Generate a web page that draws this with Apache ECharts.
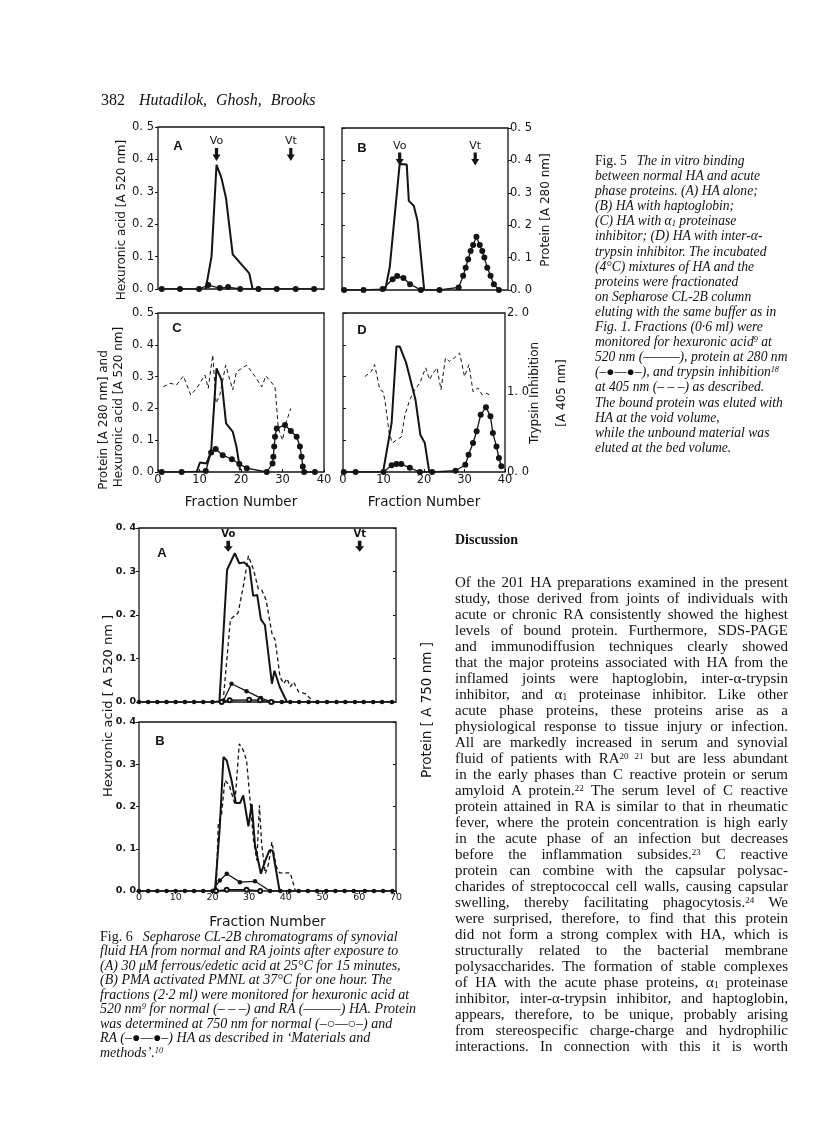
<!DOCTYPE html>
<html lang="en">
<head>
<meta charset="utf-8">
<title>Hutadilok, Ghosh, Brooks - Fig. 5 and Fig. 6</title>
<script src="https://cdn.jsdelivr.net/npm/echarts/dist/echarts.min.js"></script>
<style>
  html, body { margin: 0; padding: 0; background: #fff; }
  #page { position: relative; width: 816px; height: 1144px; overflow: hidden; background: #fff; }
  #chart { position: absolute; left: 0; top: 0; width: 816px; height: 1144px; }
  .txt { position: absolute; color: #111; font-family: "Liberation Serif", "DejaVu Serif", serif; white-space: nowrap; }
  .head { left: 101px; top: 91px; font-size: 16px; line-height: 18px; }
  .head i { margin-left: 14px; word-spacing: 5px; }
  .cap { font-style: italic; }
  .cap .rm { font-style: normal; margin-right: 10px; }
  .cap5 { left: 595px; top: 153px; font-size: 13.6px; line-height: 15.1px; }
  .cap6 { left: 100px; top: 929.5px; font-size: 14px; line-height: 14.5px; }
  .disc { left: 455px; top: 531.5px; font-size: 14px; line-height: 16px; font-weight: bold; }
  .body { left: 455px; top: 574px; width: 333px; font-size: 15px; line-height: 16px; }
  .body div { text-align: justify; text-align-last: justify; }
  sup { font-size: 0.6em; line-height: 0; vertical-align: 0.5em; }
  sub { font-size: 0.62em; line-height: 0; vertical-align: -0.15em; }
</style>
</head>
<body>
<div id="page">
  <div id="chart"></div>

  <div class="txt head">382<i>Hutadilok, Ghosh, Brooks</i></div>

  <div class="txt cap cap5">
    <div><span class="rm">Fig. 5</span>The in vitro binding</div>
    <div>between normal HA and acute</div>
    <div>phase proteins. (A) HA alone;</div>
    <div>(B) HA with haptoglobin;</div>
    <div>(C) HA with α<sub>1</sub> proteinase</div>
    <div>inhibitor; (D) HA with inter-α-</div>
    <div>trypsin inhibitor. The incubated</div>
    <div>(4°C) mixtures of HA and the</div>
    <div>proteins were fractionated</div>
    <div>on Sepharose CL-2B column</div>
    <div>eluting with the same buffer as in</div>
    <div>Fig. 1. Fractions (0·6 ml) were</div>
    <div>monitored for hexuronic acid<sup>9</sup> at</div>
    <div>520 nm (———), protein at 280 nm</div>
    <div>(–●—●–), and trypsin inhibition<sup>18</sup></div>
    <div>at 405 nm (– – –) as described.</div>
    <div>The bound protein was eluted with</div>
    <div>HA at the void volume,</div>
    <div>while the unbound material was</div>
    <div>eluted at the bed volume.</div>
  </div>

  <div class="txt cap cap6">
    <div><span class="rm">Fig. 6</span>Sepharose CL-2B chromatograms of synovial</div>
    <div>fluid HA from normal and RA joints after exposure to</div>
    <div>(A) 30 μM ferrous/edetic acid at 25°C for 15 minutes,</div>
    <div>(B) PMA activated PMNL at 37°C for one hour. The</div>
    <div>fractions (2·2 ml) were monitored for hexuronic acid at</div>
    <div>520 nm<sup>9</sup> for normal (– – –) and RA (———) HA. Protein</div>
    <div>was determined at 750 nm for normal (–○—○–) and</div>
    <div>RA (–●—●–) HA as described in ‘Materials and</div>
    <div>methods’.<sup>10</sup></div>
  </div>

  <div class="txt disc">Discussion</div>

  <div class="txt body">
    <div>Of the 201 HA preparations examined in the present</div>
    <div>study, those derived from joints of individuals with</div>
    <div>acute or chronic RA consistently showed the highest</div>
    <div>levels of bound protein. Furthermore, SDS-PAGE</div>
    <div>and immunodiffusion techniques clearly showed</div>
    <div>that the major proteins associated with HA from the</div>
    <div>inflamed joints were haptoglobin, inter-α-trypsin</div>
    <div>inhibitor, and α<sub>1</sub> proteinase inhibitor. Like other</div>
    <div>acute phase proteins, these proteins arise as a</div>
    <div>physiological response to tissue injury or infection.</div>
    <div>All are markedly increased in serum and synovial</div>
    <div>fluid of patients with RA<sup>20 21</sup> but are less abundant</div>
    <div>in the early phases than C reactive protein or serum</div>
    <div>amyloid A protein.<sup>22</sup> The serum level of C reactive</div>
    <div>protein attained in RA is similar to that in rheumatic</div>
    <div>fever, where the protein concentration is high early</div>
    <div>in the acute phase of an infection but decreases</div>
    <div>before the inflammation subsides.<sup>23</sup> C reactive</div>
    <div>protein can combine with the capsular polysac-</div>
    <div>charides of streptococcal cell walls, causing capsular</div>
    <div>swelling, thereby facilitating phagocytosis.<sup>24</sup> We</div>
    <div>were surprised, therefore, to find that this protein</div>
    <div>did not form a strong complex with HA, which is</div>
    <div>structurally related to the bacterial membrane</div>
    <div>polysaccharides. The formation of stable complexes</div>
    <div>of HA with the acute phase proteins, α<sub>1</sub> proteinase</div>
    <div>inhibitor, inter-α-trypsin inhibitor, and haptoglobin,</div>
    <div>appears, therefore, to be unique, probably arising</div>
    <div>from stereospecific charge-charge and hydrophilic</div>
    <div>interactions. In connection with this it is worth</div>
  </div>
</div>

<script>
// Fig. 5 - fractions 0-40, hexuronic acid / protein (A 520 / A 280) on 0-0.5,
// trypsin inhibition (A 405) on 0-2.0 in panel D
const f5FractionTicks = [0, 10, 20, 30, 40]
const f5AbsTicks = [0, 0.1, 0.2, 0.3, 0.4, 0.5]
const f5TrypsinTicks = [0, 1.0, 2.0]

const f5aHexuronic = [[11.5, 0], [12.9, 0.10], [14.1, 0.383], [15.3, 0.342], [16.4, 0.28], [18, 0.107], [22, 0.048], [22.8, 0]]
const f5aProtein = [[0.9, 0], [5.3, 0], [9.9, 0], [12.1, 0.012], [14.9, 0.003], [16.9, 0.006], [19.8, 0], [24.2, 0], [28.6, 0], [33.2, 0], [37.6, 0]]

const f5bHexuronic = [[10.4, 0], [11.5, 0.07], [13.9, 0.389], [15.6, 0.387], [16.1, 0.275], [17.3, 0.26], [18.2, 0.213], [19.8, 0]]
const f5bProtein = [[0.5, 0], [5.2, 0], [9.8, 0.003], [12.2, 0.033], [13.3, 0.043], [14.8, 0.037], [16.4, 0.018], [19, 0], [23.5, 0],
  [28.1, 0.008], [29.2, 0.044], [29.8, 0.069], [30.4, 0.095], [31, 0.12], [31.6, 0.139], [32.4, 0.164], [33.2, 0.139],
  [33.8, 0.12], [34.3, 0.1], [35, 0.069], [35.8, 0.044], [36.6, 0.018], [37.8, 0]]

const f5cHexuronic = [[9.3, 0], [10.1, 0.03], [11.7, 0.027], [12.8, 0.065], [14.1, 0.326], [15.3, 0.29], [16.4, 0.153], [18, 0.127], [18.9, 0.08], [19.8, 0.005]]
const f5cProtein = [[0.9, 0], [5.7, 0], [11.5, 0.003], [12.8, 0.061], [13.9, 0.072], [15.6, 0.053], [17.8, 0.04], [19.6, 0.025], [21.4, 0.012], [26.2, 0],
  [27.6, 0.027], [27.8, 0.048], [28, 0.08], [28.2, 0.111], [28.6, 0.137], [30.6, 0.148], [32, 0.129], [33.4, 0.111],
  [34.2, 0.08], [34.6, 0.048], [34.9, 0.017], [35.2, 0], [37.8, 0]]
const f5cTrypsin = [[1.3, 0.268], [2.9, 0.279], [4.5, 0.274], [6.1, 0.302], [7.9, 0.242], [9.3, 0.263], [11.3, 0.305], [12.1, 0.263], [13.2, 0.368],
  [14, 0.216], [14.9, 0.242], [16.3, 0.336], [18, 0.258], [18.9, 0.315], [21.4, 0.336], [23.4, 0.3], [25, 0.268], [26, 0.302],
  [28.2, 0.268], [29, 0.137], [30, 0.1], [30.8, 0.153], [32, 0.2]]

const f5dHexuronic = [[9.9, 0], [12, 0.154], [13.2, 0.395], [14, 0.395], [15.6, 0.343], [17.9, 0.227], [19.1, 0.117], [20.2, 0.091], [21.3, 0]]
const f5dProtein = [[0.2, 0], [3.1, 0], [10, 0], [12, 0.021], [13.2, 0.025], [14.4, 0.025], [16.5, 0.013], [19, 0], [22, 0], [27.8, 0.004],
  [30.2, 0.023], [31, 0.054], [32.1, 0.091], [33, 0.128], [34, 0.18], [35.3, 0.204], [36.4, 0.175], [37, 0.123], [37.9, 0.08],
  [38.5, 0.044], [39.1, 0.018]]
const f5dTrypsin = [[5.4, 1.2], [7, 1.265], [7.8, 1.35], [9.1, 1.035], [9.9, 1.01], [10.4, 0.888], [11.4, 0.49], [12.2, 0.365], [13.6, 0.415],
  [14.4, 0.44], [15.3, 0.72], [16.5, 0.91], [17.7, 1.035], [19, 1.12], [20.4, 1.31], [21.4, 1.16], [22, 1.225], [23.2, 1.31],
  [24.2, 1.035], [25.3, 1.434], [26.3, 1.39], [27.5, 1.434], [28.8, 1.497], [30, 1.2], [31.1, 1.35], [32.1, 1.01], [33.3, 1.057],
  [34.4, 0.97], [35.5, 0.99], [36.7, 0.95]]

// void (Vo) and bed (Vt) volume markers, fraction number
const f5Markers = [['Vo', 14.1], ['Vt', 32]]

// Fig. 6 - fractions 0-70, hexuronic acid (A 520) and protein (A 750) on 0-0.4
const f6FractionTicks = [0, 10, 20, 30, 40, 50, 60, 70]
const f6AbsTicks = [0, 0.1, 0.2, 0.3, 0.4]

const f6aRaHexuronic = [[21.9, 0], [24, 0.304], [26.1, 0.342], [27.3, 0.319], [28.6, 0.321], [30.1, 0.31], [31.1, 0.244], [32.2, 0.246],
  [33.2, 0.19], [34.3, 0.177], [36.2, 0.042], [36.9, 0.072], [38.3, 0.035], [40.3, 0]]
const f6aNormalHexuronic = [[22.9, 0], [24.9, 0.19], [27, 0.205], [28.5, 0.27], [29.8, 0.336], [31.2, 0.304], [32.5, 0.26], [33.4, 0.258],
  [34.6, 0.235], [36.2, 0.158], [37.1, 0.142], [38.4, 0.058], [39.4, 0.042], [40.3, 0.054], [41.2, 0.035], [42.1, 0.046],
  [43.5, 0.023], [45.3, 0.019], [47.6, 0]]
const f6aRaProtein = [[0, 0], [2.5, 0], [5, 0], [7.5, 0], [10, 0], [12.5, 0], [15, 0], [17.5, 0], [20, 0], [23, 0.003], [25.2, 0.042],
  [29.3, 0.025], [33.2, 0.009], [36.4, 0], [38.9, 0], [41.2, 0], [43.6, 0], [46.2, 0], [48.6, 0], [51.2, 0], [53.8, 0],
  [56.2, 0], [58.8, 0], [61.2, 0], [63.8, 0], [66.2, 0], [68.9, 0]]
const f6aNormalProtein = [[22.5, 0], [24.7, 0.004], [30, 0.005], [33, 0.004], [36, 0]]

const f6bRaHexuronic = [[20.7, 0], [22, 0.151], [23, 0.317], [23.9, 0.309], [25.2, 0.262], [26.4, 0.208], [27.5, 0.208], [28.4, 0.226],
  [29.8, 0.153], [30.7, 0.206], [31.6, 0.108], [33.2, 0.041], [34.4, 0.072], [35.5, 0.096], [36.4, 0.096], [38.3, 0]]
const f6bNormalHexuronic = [[21, 0], [21.6, 0.159], [22.5, 0.183], [23.4, 0.262], [24.6, 0.25], [26.1, 0.206], [27.3, 0.348], [28.4, 0.333],
  [29.3, 0.309], [30.1, 0.23], [31.2, 0.12], [32.1, 0.072], [32.8, 0.203], [33.4, 0.112], [34.4, 0.041], [35.3, 0.065],
  [36.2, 0.116], [37.4, 0.057], [38.3, 0.043], [41.2, 0.043], [42.6, 0]]
const f6bRaProtein = [[0, 0], [2.5, 0], [5, 0], [7.5, 0], [10, 0], [12.5, 0], [15, 0], [17.5, 0], [20, 0], [22, 0.025], [23.9, 0.041],
  [27.5, 0.021], [31.6, 0.023], [35.7, 0], [38.5, 0], [41, 0], [43.5, 0], [46, 0], [48.5, 0], [51, 0], [53.5, 0], [56, 0],
  [58.5, 0], [61.5, 0], [64, 0], [66.5, 0], [69, 0]]
const f6bNormalProtein = [[21, 0], [23.9, 0.003], [29.3, 0.003], [33, 0]]

const f6Markers = [['Vo', 24.3], ['Vt', 60.1]]

const INK = '#141414'
const FIG_FONT = '"DejaVu Sans", sans-serif'
const ARROW = 'path://M3,0 L7,0 L7,8 L10,8 L5,16 L0,8 L3,8 Z'

const fmtAbs = v => v.toFixed(1).replace('.', '. ')

function xAxis(grid, ticks, labels, fs, name) {
  return {
    type: 'value', gridIndex: grid,
    min: ticks[0], max: ticks[ticks.length - 1], interval: ticks[1] - ticks[0],
    axisLine: { show: false }, splitLine: { show: false },
    axisTick: { show: labels, inside: true, length: 3, lineStyle: { color: INK } },
    axisLabel: { show: labels, color: INK, fontSize: fs, fontFamily: FIG_FONT, margin: 2 },
    name: name || '', nameLocation: 'middle', nameGap: 23,
    nameTextStyle: { color: INK, fontSize: fs + 2, fontFamily: FIG_FONT }
  }
}

function yAxis(grid, ticks, pos, labels, fs, inside) {
  return {
    type: 'value', gridIndex: grid, position: pos,
    min: ticks[0], max: ticks[ticks.length - 1], interval: ticks[1] - ticks[0],
    axisLine: { show: false }, splitLine: { show: false },
    axisTick: { show: true, inside: !!inside, length: 3, lineStyle: { color: INK } },
    axisLabel: { show: labels, color: INK, fontSize: fs, fontFamily: FIG_FONT, margin: 4, formatter: fmtAbs }
  }
}

function solid(data, xi, yi, width, dashed) {
  return {
    type: 'line', xAxisIndex: xi, yAxisIndex: yi, data: data, symbol: 'none', z: 3,
    lineStyle: { color: INK, width: width, type: dashed ? [4, 3] : 'solid' }
  }
}

function dots(data, xi, yi, size, hollow) {
  return {
    type: 'line', xAxisIndex: xi, yAxisIndex: yi, data: data, z: 4,
    symbol: hollow ? 'emptyCircle' : 'circle', symbolSize: size, showAllSymbol: true,
    itemStyle: { color: INK, borderColor: INK, borderWidth: hollow ? 1 : 0 },
    lineStyle: { color: INK, width: 1.3 }
  }
}

function arrows(items, yVal, size, fs) {
  return {
    symbol: ARROW, symbolSize: size, silent: true,
    itemStyle: { color: INK },
    label: { show: true, position: 'top', distance: 1, formatter: '{b}', color: INK, fontSize: fs, fontFamily: FIG_FONT },
    data: items.map(m => ({ name: m[0], coord: [m[1], yVal] }))
  }
}

function gridBox(left, top, width, height) {
  return { left, top, width, height, show: true, borderColor: INK, borderWidth: 1.3, backgroundColor: 'transparent' }
}

function letter(t, x, y) {
  return { type: 'text', x, y, silent: true,
    style: { text: t, fill: INK, font: 'bold 13px "Liberation Sans", sans-serif', align: 'center', verticalAlign: 'middle' } }
}

function vtext(t, x, y, fs) {
  return { type: 'text', x, y, rotation: Math.PI / 2, silent: true,
    style: { text: t, fill: INK, font: fs + 'px ' + FIG_FONT, align: 'center', verticalAlign: 'middle' } }
}

const grids = [
  gridBox(158, 127, 166, 162),   // 5A
  gridBox(342, 128, 166, 162),   // 5B
  gridBox(158, 313, 166, 159),   // 5C
  gridBox(343, 313, 162, 159),   // 5D
  gridBox(139, 528, 257, 174),   // 6A
  gridBox(139, 722, 257, 169)    // 6B
]

const xAxes = [
  xAxis(0, f5FractionTicks, false, 11),
  xAxis(1, f5FractionTicks, false, 11),
  xAxis(2, f5FractionTicks, true, 11.5, 'Fraction Number'),
  xAxis(3, f5FractionTicks, true, 11.5, 'Fraction Number'),
  xAxis(4, f6FractionTicks, false, 9.5),
  xAxis(5, f6FractionTicks, true, 9.5)
]
xAxes[5].axisTick.inside = false
xAxes[5].axisLabel.margin = 2
xAxes[5].name = 'Fraction Number'
xAxes[5].nameGap = 24
xAxes[5].nameTextStyle.fontSize = 14

const yAxes = [
  yAxis(0, f5AbsTicks, 'left', true, 11.5),          // 0: 5A left
  yAxis(0, f5AbsTicks, 'right', false, 11, true),    // 1: 5A right
  yAxis(1, f5AbsTicks, 'left', false, 11, true),     // 2: 5B left
  yAxis(1, f5AbsTicks, 'right', true, 11.5),         // 3: 5B right
  yAxis(2, f5AbsTicks, 'left', true, 11.5),          // 4: 5C left
  yAxis(3, f5AbsTicks, 'left', false, 11, true),     // 5: 5D left
  yAxis(3, f5TrypsinTicks, 'right', true, 11.5),     // 6: 5D right (trypsin)
  yAxis(4, f6AbsTicks, 'left', true, 9.5),           // 7: 6A left
  yAxis(4, f6AbsTicks, 'right', false, 9, true),     // 8: 6A right
  yAxis(5, f6AbsTicks, 'left', true, 9.5),           // 9: 6B left
  yAxis(5, f6AbsTicks, 'right', false, 9, true)      // 10: 6B right
]
yAxes[3].axisLabel.margin = 2
yAxes[6].axisLabel.margin = 2
yAxes[6].axisTick.show = false
yAxes[7].axisLabel.fontWeight = 'bold'
yAxes[9].axisLabel.fontWeight = 'bold'
yAxes[7].axisLabel.margin = 3
yAxes[9].axisLabel.margin = 3

const s5a = solid(f5aHexuronic, 0, 0, 2)
s5a.markPoint = arrows(f5Markers, 0.415, [8, 13], 11)
const s5b = solid(f5bHexuronic, 1, 3, 2)
s5b.markPoint = arrows([['Vo', 13.9], ['Vt', 32.1]], 0.404, [8, 13], 11)
const s6a = solid(f6aRaHexuronic, 4, 7, 2)
s6a.markPoint = arrows(f6Markers, 0.358, [9, 11], 10)
s6a.markPoint.label.fontWeight = 'bold'

const series = [
  s5a, dots(f5aProtein, 0, 0, 6),
  s5b, dots(f5bProtein, 1, 3, 6),
  solid(f5cHexuronic, 2, 4, 2), dots(f5cProtein, 2, 4, 6), solid(f5cTrypsin, 2, 4, 1, true),
  solid(f5dHexuronic, 3, 5, 2), dots(f5dProtein, 3, 5, 6), solid(f5dTrypsin, 3, 6, 1, true),
  s6a, solid(f6aNormalHexuronic, 4, 7, 1.3, true), dots(f6aRaProtein, 4, 7, 4.5), dots(f6aNormalProtein, 4, 7, 4, true),
  solid(f6bRaHexuronic, 5, 9, 2), solid(f6bNormalHexuronic, 5, 9, 1.3, true), dots(f6bRaProtein, 5, 9, 4.5), dots(f6bNormalProtein, 5, 9, 4, true)
]

const graphic = [
  letter('A', 178, 146), letter('B', 362, 148), letter('C', 177, 328), letter('D', 362, 330),
  letter('A', 162, 553), letter('B', 160, 741),
  // Fig. 5 axis titles
  vtext('Hexuronic acid [A 520 nm]', 122, 220, 12),
  vtext('Hexuronic acid [A 520 nm]', 119, 407, 12),
  vtext('Protein [A 280 nm] and', 104, 420, 12),
  vtext('Protein [A 280 nm]', 546, 210, 12),
  vtext('Trypsin Inhibition', 535, 393, 12),
  vtext('[A 405 nm]', 562, 393, 12),
  // Fig. 6 axis titles
  vtext('Hexuronic acid [ A 520 nm ]', 109, 706, 13),
  vtext('Protein [ A 750 nm ]', 427, 710, 13.5)
]

const chart = echarts.init(document.getElementById('chart'))
chart.setOption({
  animation: false,
  backgroundColor: 'transparent',
  grid: grids,
  xAxis: xAxes,
  yAxis: yAxes,
  series: series,
  graphic: graphic
})
</script>
</body>
</html>
